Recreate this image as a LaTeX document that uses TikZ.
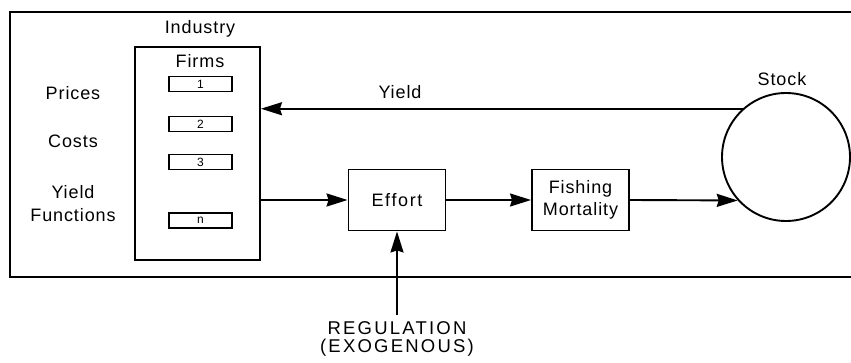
\documentclass[tikz,border=0pt]{standalone}
\usepackage{fontspec}
\setmainfont{Liberation Sans}[LetterSpace=5]
\usetikzlibrary{arrows.meta}
\begin{document}
\begin{tikzpicture}[x=1pt,y=1pt,
  lbl/.style={font=\fontsize{18}{21}\selectfont, inner sep=0pt, align=center},
  box/.style={draw, line width=1.9pt, inner sep=0pt, align=center, font=\fontsize{18}{21}\selectfont},
  firm/.style={draw, line width=1.9pt, minimum width=63pt, minimum height=15pt, inner sep=0pt, font=\fontsize{12}{12}\selectfont},
  arr/.style={line width=1.9pt, -{Stealth[length=21pt,width=13pt,inset=2pt]}}
]
\useasboundingbox (0,0) rectangle (851,362);
\draw[line width=2pt] (10,350) rectangle (854,85);
% industry
\node[box, minimum width=125pt, minimum height=213pt] (industry) at (197.5,208.5) {};
\node[lbl] (indlbl) at (200,333) {Industry};
\node[lbl] (firms) at (200,301) {Firms};
\node[firm] (f1) at (200.5,278) {1};
\node[firm] (f2) at (200.5,238) {2};
\node[firm] (f3) at (200.5,200) {3};
\node[firm] (fn) at (200.5,141.5) {n};
% left labels
\node[lbl] (prices) at (73,269) {Prices};
\node[lbl] (costs) at (73,221) {Costs};
\node[lbl, font=\fontsize{18}{23}\selectfont] (yf) at (73,158) {Yield\\Functions};
% process boxes
\node[box, minimum width=97pt, minimum height=61pt, font=\fontsize{18}{21}\selectfont\addfontfeature{LetterSpace=9}] (effort) at (397,162) {Effort};
\node[box, minimum width=97pt, minimum height=61pt, font=\fontsize{18}{22}\selectfont] (fish) at (580.5,162) {Fishing\\Mortality};
\node[draw, circle, line width=1.9pt, minimum size=128pt, inner sep=0pt] (stock) at (786,205) {};
\node[lbl] (stocklbl) at (782,283) {Stock};
% connectors
\draw[arr] (stock.132.7) -- (stock.132.7 -| industry.east);
\node[lbl] (yieldlbl) at (400,270) {Yield};
\draw[arr] (industry.east |- effort.west) -- (effort.west);
\draw[arr] (effort.east) -- (fish.west);
\draw[arr] (fish.east) -- (stock.222.2);
\coordinate (reg) at (397,47);
\draw[arr] (reg) -- (effort.south);
\node[lbl, font=\fontsize{18.5}{18}\selectfont\addfontfeature{LetterSpace=12}] (reglbl) at (397,23) {REGULATION\\(EXOGENOUS)};
\end{tikzpicture}
\end{document}
